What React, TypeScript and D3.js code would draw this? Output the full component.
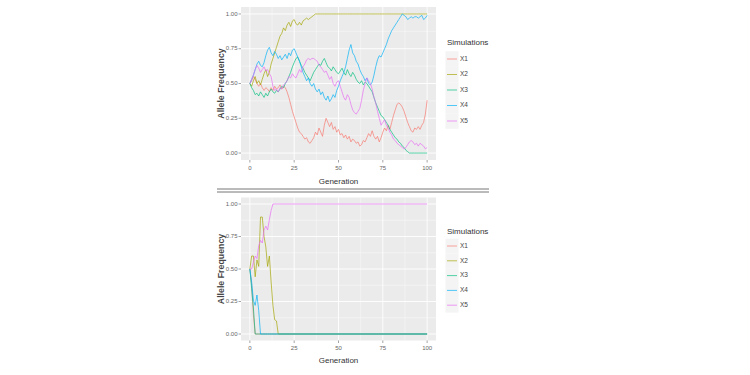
import React from "react";
import * as d3 from "d3";

const seriesNames = ["X1", "X2", "X3", "X4", "X5"];
const seriesColors = ["#F8766D", "#A3A500", "#00BF7D", "#00B0F6", "#E76BF3"];
const xTicks = [0, 25, 50, 75, 100];
const yTicks = [0, 0.25, 0.5, 0.75, 1];
const yTickLabels = ["0.00", "0.25", "0.50", "0.75", "1.00"];

// Top panel: generations 0..100
const topGenerations = d3.range(0, 101);
const topX1 = [0.50,0.52,0.55,0.53,0.50,0.48,0.50,0.47,0.45,0.47,0.46,0.44,0.47,0.45,0.48,0.46,0.47,0.49,0.46,0.48,0.47,0.44,0.40,0.35,0.30,0.26,0.22,0.18,0.15,0.14,0.12,0.10,0.11,0.08,0.07,0.09,0.11,0.15,0.13,0.18,0.15,0.12,0.20,0.25,0.22,0.19,0.22,0.17,0.19,0.15,0.17,0.13,0.14,0.11,0.13,0.10,0.12,0.08,0.10,0.09,0.07,0.08,0.05,0.06,0.09,0.08,0.11,0.14,0.12,0.16,0.12,0.10,0.12,0.08,0.11,0.15,0.18,0.16,0.20,0.17,0.22,0.27,0.31,0.35,0.36,0.35,0.33,0.30,0.26,0.22,0.19,0.16,0.15,0.18,0.17,0.19,0.17,0.20,0.22,0.28,0.38];
const topX2 = [0.50,0.48,0.52,0.55,0.50,0.52,0.49,0.53,0.57,0.60,0.55,0.58,0.64,0.68,0.72,0.76,0.80,0.84,0.86,0.90,0.88,0.92,0.94,0.91,0.95,0.96,0.93,0.92,0.94,0.92,0.95,0.96,0.97,0.96,0.97,0.98,0.99,1,1,1,1,1,1,1,1,1,1,1,1,1,1,1,1,1,1,1,1,1,1,1,1,1,1,1,1,1,1,1,1,1,1,1,1,1,1,1,1,1,1,1,1,1,1,1,1,1,1,1,1,1,1,1,1,1,1,1,1,1,1,1,1];
const topX3 = [0.50,0.47,0.45,0.42,0.43,0.41,0.44,0.42,0.40,0.43,0.41,0.44,0.46,0.44,0.43,0.45,0.44,0.46,0.48,0.47,0.50,0.52,0.55,0.58,0.62,0.65,0.68,0.69,0.66,0.63,0.61,0.58,0.56,0.54,0.52,0.55,0.58,0.60,0.62,0.64,0.63,0.66,0.68,0.65,0.62,0.61,0.59,0.62,0.60,0.58,0.57,0.59,0.61,0.58,0.56,0.60,0.57,0.55,0.58,0.56,0.53,0.51,0.50,0.52,0.49,0.51,0.50,0.48,0.46,0.44,0.40,0.36,0.33,0.30,0.27,0.26,0.24,0.22,0.20,0.17,0.15,0.13,0.11,0.10,0.08,0.07,0.05,0.04,0.02,0.01,0,0,0,0,0,0,0,0,0,0,0];
const topX4 = [0.50,0.53,0.56,0.60,0.64,0.66,0.63,0.62,0.65,0.70,0.74,0.76,0.72,0.70,0.73,0.71,0.68,0.70,0.67,0.69,0.71,0.68,0.72,0.70,0.74,0.75,0.72,0.69,0.66,0.62,0.58,0.55,0.52,0.54,0.50,0.48,0.50,0.46,0.44,0.46,0.42,0.44,0.40,0.38,0.41,0.37,0.39,0.42,0.40,0.45,0.48,0.52,0.55,0.58,0.62,0.68,0.74,0.78,0.72,0.70,0.66,0.64,0.60,0.57,0.55,0.52,0.54,0.50,0.49,0.51,0.56,0.62,0.67,0.70,0.69,0.72,0.75,0.78,0.82,0.85,0.88,0.90,0.92,0.94,0.96,0.98,1.00,0.99,0.98,0.96,0.97,0.98,0.97,0.98,0.98,0.97,0.98,0.99,0.96,0.97,0.99];
const topX5 = [0.50,0.53,0.56,0.60,0.63,0.61,0.58,0.60,0.62,0.59,0.60,0.57,0.55,0.48,0.45,0.46,0.44,0.47,0.46,0.49,0.50,0.52,0.55,0.54,0.57,0.55,0.54,0.57,0.60,0.58,0.62,0.64,0.67,0.68,0.67,0.68,0.68,0.67,0.66,0.63,0.62,0.60,0.58,0.59,0.56,0.53,0.55,0.50,0.48,0.51,0.52,0.48,0.44,0.40,0.38,0.42,0.40,0.35,0.31,0.29,0.28,0.30,0.32,0.38,0.45,0.50,0.54,0.52,0.50,0.46,0.40,0.36,0.30,0.25,0.20,0.22,0.24,0.20,0.18,0.15,0.13,0.10,0.09,0.07,0.06,0.05,0.04,0.03,0.04,0.06,0.08,0.09,0.08,0.06,0.07,0.05,0.07,0.06,0.05,0.03,0.04];

// Bottom panel: generations 0..16, then 100
const bottomGenerations = [0,1,2,3,4,5,6,7,8,9,10,11,12,13,14,15,16,100];
const bottomX1 = [0.50,0.38,0.15,0,0,0,0,0,0,0,0,0,0,0,0,0,0,0];
const bottomX2 = [0.50,0.60,0.60,0.44,0.57,0.52,0.90,0.90,0.75,0.67,0.52,0.60,0.40,0.22,0.11,0.10,0,0];
const bottomX3 = [0.50,0.35,0.20,0,0,0,0,0,0,0,0,0,0,0,0,0,0,0];
const bottomX4 = [0.50,0.40,0.26,0.22,0.30,0.18,0,0,0,0,0,0,0,0,0,0,0,0];
const bottomX5 = [0.50,0.50,0.55,0.60,0.58,0.68,0.72,0.70,0.80,0.83,0.80,0.88,0.95,1,1,1,1,1];

const FONT = "'Liberation Sans Narrow', 'Liberation Sans', Arial, sans-serif";

type PanelProps = {
  gens: number[];
  series: number[][];
  x0: number; x1: number; y0: number; y1: number;
  legendTitleY: number; legendY0: number; legendStep: number;
  xLabelY: number; titleY: number;
};

function Panel(p: PanelProps) {
  const x = d3.scaleLinear().domain([-5, 105]).range([p.x0, p.x1]);
  const y = d3.scaleLinear().domain([-0.05, 1.05]).range([p.y1, p.y0]);
  const line = (vals: number[]) =>
    d3.line<number>().x((_, i) => x(p.gens[i])).y((v) => y(v))(vals) || "";
  const xMinor = [12.5, 37.5, 62.5, 87.5];
  const yMinor = [0.125, 0.375, 0.625, 0.875];
  const midY = (p.y0 + p.y1) / 2;
  const midX = (p.x0 + p.x1) / 2;
  return (
    <g>
      <rect x={p.x0} y={p.y0} width={p.x1 - p.x0} height={p.y1 - p.y0} fill="#EBEBEB" />
      {xMinor.map((t) => (
        <line key={"xm" + t} x1={x(t)} x2={x(t)} y1={p.y0} y2={p.y1} stroke="#fff" strokeWidth={0.4} />
      ))}
      {yMinor.map((t) => (
        <line key={"ym" + t} x1={p.x0} x2={p.x1} y1={y(t)} y2={y(t)} stroke="#fff" strokeWidth={0.4} />
      ))}
      {xTicks.map((t) => (
        <line key={"xg" + t} x1={x(t)} x2={x(t)} y1={p.y0} y2={p.y1} stroke="#fff" strokeWidth={0.9} />
      ))}
      {yTicks.map((t) => (
        <line key={"yg" + t} x1={p.x0} x2={p.x1} y1={y(t)} y2={y(t)} stroke="#fff" strokeWidth={0.9} />
      ))}
      {p.series.map((s, i) => (
        <path key={"s" + i} d={line(s)} fill="none" stroke={seriesColors[i]} strokeWidth={0.85} strokeOpacity={0.8} />
      ))}
      {xTicks.map((t) => (
        <g key={"xt" + t}>
          <line x1={x(t)} x2={x(t)} y1={p.y1} y2={p.y1 + 2.5} stroke="#666" strokeWidth={0.6} />
          <text x={x(t)} y={p.xLabelY} textAnchor="middle" dominantBaseline="middle" fontSize={6} fill="#666" fontFamily={FONT}>{t}</text>
        </g>
      ))}
      {yTicks.map((t, i) => (
        <g key={"yt" + t}>
          <line x1={p.x0 - 2.5} x2={p.x0} y1={y(t)} y2={y(t)} stroke="#666" strokeWidth={0.6} />
          <text x={p.x0 - 3.5} y={y(t)} textAnchor="end" dominantBaseline="middle" fontSize={6} fill="#666" fontFamily={FONT}>{yTickLabels[i]}</text>
        </g>
      ))}
      <text x={midX} y={p.titleY} textAnchor="middle" dominantBaseline="middle" fontSize={8} fill="#333" fontFamily={FONT}>Generation</text>
      <text transform={`translate(222,${midY}) rotate(-90)`} textAnchor="middle" dominantBaseline="middle" fontSize={8.8} fontWeight="bold" fill="#444" fontFamily={FONT}>Allele Frequency</text>
      <text x={447} y={p.legendTitleY} dominantBaseline="middle" fontSize={8} fill="#333" fontFamily={FONT}>Simulations</text>
      {seriesNames.map((n, i) => {
        const cy = p.legendY0 + i * p.legendStep;
        return (
          <g key={"lg" + n}>
            <rect x={445.5} y={cy - p.legendStep / 2} width={13} height={p.legendStep} fill="#F4F4F4" />
            <line x1={447} x2={457} y1={cy} y2={cy} stroke={seriesColors[i]} strokeWidth={0.85} strokeOpacity={0.8} />
            <text x={460} y={cy} dominantBaseline="middle" fontSize={6.5} fill="#444" fontFamily={FONT}>{n}</text>
          </g>
        );
      })}
    </g>
  );
}

export default function App() {
  return (
    <svg width={750} height={375} style={{ position: "absolute", left: 0, top: 0, background: "#fff" }}>
      <Panel
        gens={topGenerations}
        series={[topX1, topX2, topX3, topX4, topX5]}
        x0={241} x1={436} y0={7} y1={160}
        legendTitleY={43} legendY0={59} legendStep={15.5}
        xLabelY={168} titleY={182}
      />
      <line x1={217} x2={489} y1={189} y2={189} stroke="#777" strokeWidth={1} />
      <line x1={217} x2={489} y1={192} y2={192} stroke="#777" strokeWidth={1} />
      <Panel
        gens={bottomGenerations}
        series={[bottomX1, bottomX2, bottomX3, bottomX4, bottomX5]}
        x0={241} x1={436} y0={197.5} y1={340.5}
        legendTitleY={232} legendY0={246} legendStep={14.8}
        xLabelY={348} titleY={361}
      />
    </svg>
  );
}
